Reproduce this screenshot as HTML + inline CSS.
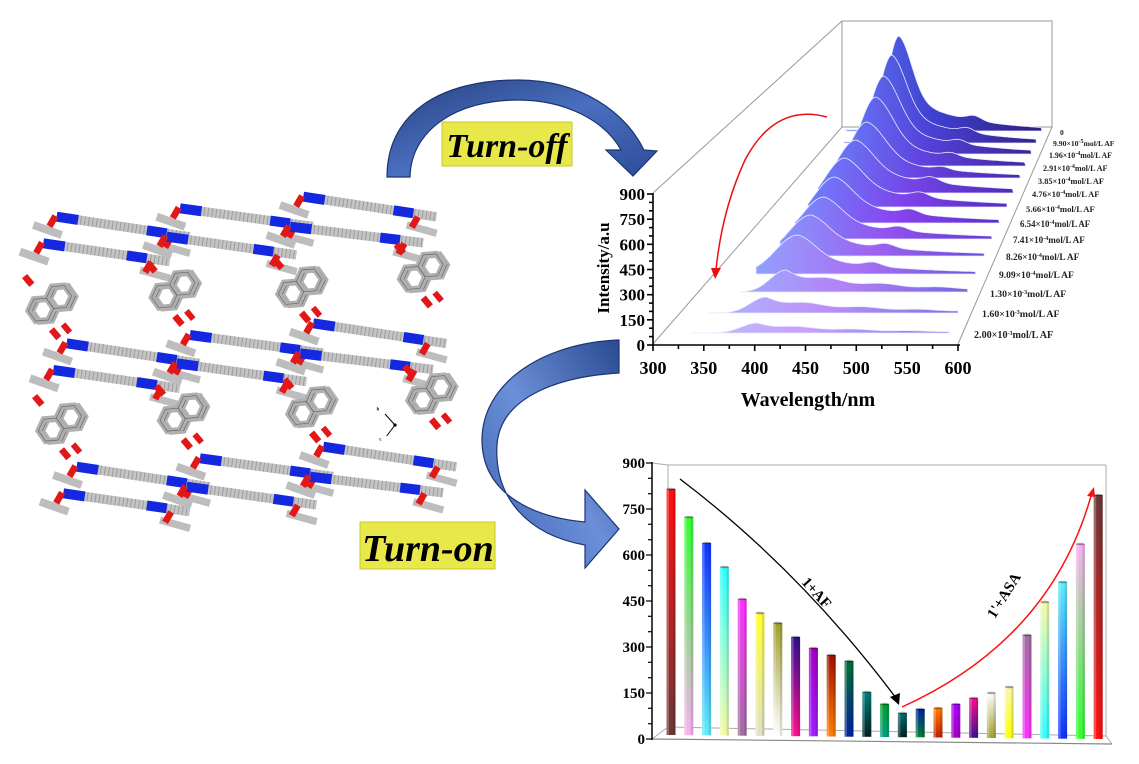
<!DOCTYPE html>
<html><head><meta charset="utf-8"><style>
html,body{margin:0;padding:0;background:#fff;}
svg{display:block;}
text{font-family:"Liberation Serif",serif;font-weight:bold;}
</style></head><body>
<svg id="s" width="1139" height="764" viewBox="0 0 1139 764" xmlns="http://www.w3.org/2000/svg">
<defs>
<linearGradient id="arr" x1="0" y1="0" x2="1" y2="1">
<stop offset="0" stop-color="#25407f"/><stop offset="0.5" stop-color="#4a6fc0"/><stop offset="1" stop-color="#2c4d98"/>
</linearGradient>
<linearGradient id="arr2" x1="1" y1="0" x2="0" y2="1">
<stop offset="0" stop-color="#2a4a92"/><stop offset="0.5" stop-color="#6b8fd8"/><stop offset="1" stop-color="#3a5fb0"/>
</linearGradient>
</defs>
<g id="g"></g>
</svg>
<script>
(function(){
var S=[];function A(s){S.push(s);}
function hx(c){return [parseInt(c.substr(1,2),16),parseInt(c.substr(3,2),16),parseInt(c.substr(5,2),16)];}
function lc(a,b,t){var x=hx(a),y=hx(b);return 'rgb('+x.map(function(v,i){return Math.round(v+(y[i]-v)*t);}).join(',')+')';}

A('<path d="M387,177 C387,112 442,80 518,80 C582,80 626,113 644,150 L657,151 L633,176 L606,150 L621,150 C605,121 566,100 518,100 C456,100 411,130 410,177 Z" fill="url(#arr)" stroke="#1d3570" stroke-width="1.2"/>');
A('<path d="M619,340 C540,343 482,385 482,440 C482,492 530,517 585,522 L585,490 L619,529 L585,568 L585,545 C528,535 494,498 497,445 C500,400 552,377 619,373 Z" fill="url(#arr2)" stroke="#1d3570" stroke-width="1.2"/>');
A('<rect x="442" y="122" width="130" height="44" fill="#e8e84a" stroke="#c8c830"/>');
A('<text x="507" y="157" font-size="34" font-style="italic" text-anchor="middle" fill="#000">Turn-off</text>');
A('<rect x="360" y="522" width="135" height="47" fill="#e8e84a" stroke="#c8c830"/>');
A('<text x="428" y="561" font-size="38" font-style="italic" text-anchor="middle" fill="#000">Turn-on</text>');

var C=['<g transform="translate(0,180) scale(0.33333)">'];
var base=[[170,110,500,160],[130,190,440,235],[540,85,870,130],[500,170,820,215],[910,50,1240,100],[870,140,1200,180]];
var fl=[[0,0],[30,380],[60,750]];
fl.forEach(function(f){
 base.forEach(function(b){
  var x1=b[0]+f[0],y1=b[1]+f[1],x2=b[2]+f[0],y2=b[3]+f[1];
  var dx=x2-x1,dy=y2-y1,L=Math.sqrt(dx*dx+dy*dy),ux=dx/L,uy=dy/L;
  C.push('<line x1="'+(x1-70)+'" y1="'+(y1+25)+'" x2="'+(x1+15)+'" y2="'+(y1+55)+'" stroke="#bdbdbd" stroke-width="24"/>');
  C.push('<line x1="'+(x2-20)+'" y1="'+(y2+35)+'" x2="'+(x2+70)+'" y2="'+(y2+60)+'" stroke="#bdbdbd" stroke-width="22"/>');
  C.push('<line x1="'+x1+'" y1="'+y1+'" x2="'+(x2+70*ux)+'" y2="'+(y2+70*uy)+'" stroke="#c4c4c4" stroke-width="28"/>');
  C.push('<line x1="'+x1+'" y1="'+y1+'" x2="'+(x2+70*ux)+'" y2="'+(y2+70*uy)+'" stroke="#7d7d7d" stroke-width="28" stroke-dasharray="3 9" opacity="0.55"/>');
  C.push('<line x1="'+x1+'" y1="'+y1+'" x2="'+(x1+65*ux)+'" y2="'+(y1+65*uy)+'" stroke="#1428e0" stroke-width="30"/>');
  C.push('<line x1="'+(x2-60*ux)+'" y1="'+(y2-60*uy)+'" x2="'+x2+'" y2="'+y2+'" stroke="#1428e0" stroke-width="30"/>');
  C.push('<rect x="'+(x1-22)+'" y="'+(y1-5)+'" width="20" height="36" fill="#e21818" transform="rotate(30 '+(x1-13)+' '+(y1+12)+')"/>');
  C.push('<rect x="'+(x2-5)+'" y="'+(y2+8)+'" width="20" height="36" fill="#e21818" transform="rotate(30 '+(x2+4)+' '+(y2+25)+')"/>');
 });
});
var nap=[[150,370],[520,330],[900,320],[1265,275],[180,730],[545,700],[930,680],[1290,640]];
function hexp(cx,cy,r){var p=[];for(var k=0;k<6;k++){var a=Math.PI/3*k+Math.PI/6;p.push((cx+r*Math.cos(a)).toFixed(1)+','+(cy+r*Math.sin(a)).toFixed(1));}return p.join(' ');}
nap.forEach(function(n){
 var x=n[0],y=n[1];
 C.push('<g transform="rotate(-35 '+x+' '+y+')">');
 [[8,8],[0,0]].forEach(function(o){
  C.push('<polygon points="'+hexp(x-33+o[0],y+o[1],38)+'" fill="none" stroke="#b0b0b0" stroke-width="18"/>');
  C.push('<polygon points="'+hexp(x+33+o[0],y+o[1],38)+'" fill="none" stroke="#b0b0b0" stroke-width="18"/>');
  C.push('<polygon points="'+hexp(x-33+o[0],y+o[1],38)+'" fill="none" stroke="#666" stroke-width="2"/>');
  C.push('<polygon points="'+hexp(x+33+o[0],y+o[1],38)+'" fill="none" stroke="#666" stroke-width="2"/>');
 });
 C.push('</g>');
 C.push('<rect x="'+(x-75)+'" y="'+(y-85)+'" width="20" height="34" fill="#e21818" transform="rotate(-40 '+(x-66)+' '+(y-68)+')"/>');
 C.push('<rect x="'+(x+5)+'" y="'+(y+75)+'" width="20" height="34" fill="#e21818" transform="rotate(-40 '+(x+14)+' '+(y+91)+')"/>');
 C.push('<rect x="'+(x+40)+'" y="'+(y+60)+'" width="18" height="32" fill="#e21818" transform="rotate(-40 '+(x+48)+' '+(y+75)+')"/>');
});
C.push('<g stroke="#000" stroke-width="3" fill="none"><line x1="1185" y1="735" x2="1155" y2="702"/><line x1="1185" y1="735" x2="1160" y2="768"/></g><circle cx="1185" cy="735" r="5" fill="#000"/>');
C.push('<text x="1130" y="692" font-size="14" font-weight="normal">b</text><text x="1138" y="782" font-size="14" font-weight="normal">c</text>');
C.push('</g>');
A(C.join(''));

A('<g stroke="#999" stroke-width="1" fill="none"><line x1="653" y1="193" x2="842" y2="21"/><line x1="653" y1="344" x2="842" y2="127"/><rect x="842" y="21" width="210" height="106"/><line x1="1052" y1="127" x2="958" y2="344"/></g>');
var bs=[131,143,154,166,178,193,207,223,239,256,274,292,313,333];
var px=[899,892,884,876,867,856,845,835,824,811,798,786,766,757];
var py=[36,55,76,97,122,140,158,177,197,215,235,270,297,323];
var xsA=[846,844,842,840,838,828,818,808,795,780,756,741,709,691];
var P0=['#5a78f0','#4040d0','#2c2080'],P1=['#6a80f8','#8a44f0','#5a30c8'],P2=['#b8c0ff','#c8a0f8','#8080e8'];
var D=['<defs>'],R=[];
for(var i=0;i<14;i++){
 var b=bs[i],p=px[i],h=b-py[i],xs=xsA[i],xe=1042-(1042-949)*(b-131)/202;
 var cols;if(i<=7){cols=P0.map(function(c,k){return lc(c,P1[k],i/7);});}else{cols=P1.map(function(c,k){return lc(c,P2[k],(i-7)/6);});}
 D.push('<linearGradient id="rg'+i+'" gradientUnits="userSpaceOnUse" x1="'+xs+'" y1="0" x2="'+xe+'" y2="0"><stop offset="0" stop-color="'+cols[0]+'"/><stop offset="0.45" stop-color="'+cols[1]+'"/><stop offset="1" stop-color="'+cols[2]+'"/></linearGradient>');
 var pts=[];
 for(var xx=xs;xx<=xe;xx+=1.5){
  var d=xx-p,f;
  if(i>=11){
   if(d<0)f=Math.exp(-Math.pow(d/22,2));
   else f=(0.85*Math.exp(-d/110)+0.15*Math.exp(-Math.pow(d/15,2)))*(1-0.12*Math.sin(d/9));
  }else if(i<=4){
   if(d<0)f=Math.exp(-Math.pow(d/(16+i*2),2));
   else f=0.6*Math.exp(-Math.pow(d/(18+i*2),2))+0.4*Math.exp(-d/(60+i*5))+0.05*Math.exp(-Math.pow((d-75)/10,2));
  }else{
   if(d<0)f=Math.exp(-Math.pow(d/(22+i),2));
   else f=0.5*Math.exp(-Math.pow(d/25,2))+0.5*Math.exp(-d/85)+0.1*Math.exp(-Math.pow((d-75)/12,2));
  }
  f=Math.max(f,0.015);
  pts.push(xx.toFixed(1)+','+(b-h*f).toFixed(1));
 }
 R.push('<path d="M'+xs+','+b+' L'+pts.join(' L')+' L'+xe+','+b+' Z" fill="url(#rg'+i+')" stroke="#e6ecff" stroke-width="0.8"/>');
}
D.push('</defs>');A(D.join(''));A(R.join(''));
function sup(e){return '10<tspan baseline-shift="super" font-size="6">'+e+'</tspan>';}
var lab=['0','9.90×'+sup('-5')+'mol/L AF','1.96×'+sup('-4')+'mol/L AF','2.91×'+sup('-4')+'mol/L AF','3.85×'+sup('-4')+'mol/L AF','4.76×'+sup('-4')+'mol/L AF','5.66×'+sup('-4')+'mol/L AF','6.54×'+sup('-4')+'mol/L AF','7.41×'+sup('-4')+'mol/L AF','8.26×'+sup('-4')+'mol/L AF','9.09×'+sup('-4')+'mol/L AF','1.30×'+sup('-3')+'mol/L AF','1.60×'+sup('-3')+'mol/L AF','2.00×'+sup('-3')+'mol/L AF'];
var ly=[135,146,158,171,184,197,212,227,243,260,278,297,317,338];
var lx=[1060,1053,1049,1043,1038,1032,1026,1020,1013,1006,999,990,982,974];
for(var i=0;i<14;i++){var fs=7.5+i*0.2;A('<text x="'+lx[i]+'" y="'+ly[i]+'" font-size="'+fs.toFixed(1)+'" fill="#222">'+lab[i]+'</text>');}
A('<path d="M827,117 Q775,103 745,160 Q722,210 716,270" fill="none" stroke="#e81010" stroke-width="1.5"/><polygon points="711,268 721,268 715,279" fill="#e81010"/>');
var ax=['<g stroke="#000" stroke-width="1.6" fill="none"><line x1="653" y1="193" x2="653" y2="345"/><line x1="652" y1="345" x2="960" y2="345"/>'];
for(var v=0;v<=900;v+=50){var yy=345-v*151/900;ax.push('<line x1="'+(v%150==0?647:649)+'" y1="'+yy.toFixed(1)+'" x2="653" y2="'+yy.toFixed(1)+'"/>');}
for(var w=300;w<=600;w+=25){var xx=653+(w-300)*305/300;ax.push('<line x1="'+xx.toFixed(1)+'" y1="345" x2="'+xx.toFixed(1)+'" y2="'+(w%50==0?351:349)+'"/>');}
ax.push('</g>');A(ax.join(''));
for(var v=0;v<=900;v+=150){var yy=345-v*151/900;A('<text x="645" y="'+(yy+6).toFixed(1)+'" font-size="17" text-anchor="end">'+v+'</text>');}
for(var w=300;w<=600;w+=50){var xx=653+(w-300)*305/300;A('<text x="'+xx.toFixed(1)+'" y="374" font-size="18" text-anchor="middle">'+w+'</text>');}
A('<text x="808" y="406" font-size="20" text-anchor="middle">Wavelength/nm</text>');
A('<text transform="translate(609,268) rotate(-90)" font-size="17" text-anchor="middle">Intensity/a.u</text>');

A('<g stroke="#aaa" stroke-width="1" fill="none"><line x1="652" y1="463" x2="668" y2="465"/><line x1="668" y1="465" x2="1106" y2="465"/><line x1="668" y1="465" x2="668" y2="727"/><line x1="1106" y1="465" x2="1106" y2="736"/><line x1="668" y1="727" x2="1106" y2="736"/><line x1="652" y1="739" x2="668" y2="727"/><line x1="1106" y1="736" x2="1112" y2="744"/></g>');
A('<line x1="652" y1="739" x2="1112" y2="744" stroke="#888" stroke-width="1.2"/>');
A('<g stroke="#000" stroke-width="1.5"><line x1="652" y1="462" x2="652" y2="740"/></g>');
for(var v=0;v<=900;v+=50){var yy=739-v*276/900;A('<line x1="'+(v%150==0?646:648)+'" y1="'+yy.toFixed(1)+'" x2="652" y2="'+yy.toFixed(1)+'" stroke="#000" stroke-width="1.2"/>');}
for(var v=0;v<=900;v+=150){var yy=739-v*276/900;A('<text x="645" y="'+(yy+5).toFixed(1)+'" font-size="15" text-anchor="end">'+v+'</text>');}
var bc=[['#ff1010','#6a3838'],['#30ff30','#f8b0f0'],['#1030ff','#60f0f8'],['#30ffff','#f8f8a8'],['#ff30ff','#a070a0'],['#ffff30','#e0e0c8'],['#a0a030','#ffffff'],['#301090','#ff1090'],['#a000c0','#a020ff'],['#a01000','#ff8000'],['#007030','#0020a0'],['#008080','#002020'],['#00a030','#00a080'],['#007070','#002020'],['#0020a0','#008030'],['#ff8000','#c02000'],['#b000ff','#a000c0'],['#ff1090','#401090'],['#ffffff','#a0a030'],['#f8f8a8','#ffff00'],['#a070a0','#ff30ff'],['#f8f8a8','#30ffff'],['#60f0f8','#1030ff'],['#f8b0f0','#30ff30'],['#6a3838','#ff1010']];
var bt=[489,517,543,567,599,613,623,637,648,655,661,692,704,713,709,708,704,698,693,687,635,602,582,544,495];
var BD=['<defs>'],BB=[];
for(var k=0;k<25;k++){
 var cx=671+k*17.8,bot=735+4*k/24,tp=bt[k];
 BD.push('<linearGradient id="bg'+k+'" x1="0" y1="0" x2="0" y2="1"><stop offset="0" stop-color="'+bc[k][0]+'"/><stop offset="1" stop-color="'+bc[k][1]+'"/></linearGradient>');
 BB.push('<rect x="'+(cx-4.5).toFixed(1)+'" y="'+tp+'" width="9" height="'+(bot-tp).toFixed(1)+'" fill="url(#bg'+k+')"/>');
 BB.push('<rect x="'+(cx-4.5).toFixed(1)+'" y="'+tp+'" width="2.5" height="'+(bot-tp).toFixed(1)+'" fill="#fff" opacity="0.25"/>');
 BB.push('<rect x="'+(cx+2).toFixed(1)+'" y="'+tp+'" width="2.5" height="'+(bot-tp).toFixed(1)+'" fill="#000" opacity="0.12"/>');
 BB.push('<ellipse cx="'+cx.toFixed(1)+'" cy="'+tp+'" rx="4.5" ry="1.3" fill="#000" opacity="0.35"/>');
}
BD.push('</defs>');A(BD.join(''));A(BB.join(''));
A('<path d="M680,479 Q800,570 896,698" fill="none" stroke="#000" stroke-width="1.3"/><polygon points="890,697 900,693 899,705" fill="#000"/>');
A('<text transform="translate(813,596) rotate(48)" font-size="15" text-anchor="middle">1+AF</text>');
A('<path d="M902,707 Q1050,640 1091,496" fill="none" stroke="#ff1010" stroke-width="1.5"/><polygon points="1087,496 1095,497 1094,487" fill="#ff1010"/>');
A('<text transform="translate(1008,598) rotate(-58)" font-size="15" text-anchor="middle">1\'+ASA</text>');

document.getElementById('g').innerHTML=S.join('');
})();
</script>
</body></html>
